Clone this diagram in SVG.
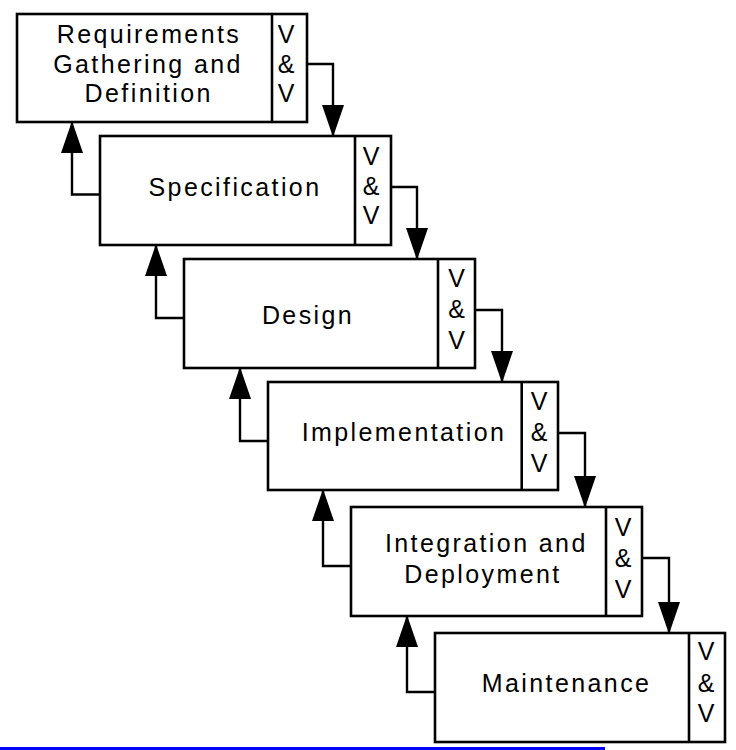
<svg xmlns="http://www.w3.org/2000/svg" width="736" height="750" viewBox="0 0 736 750">
<defs>
<style>
.box{fill:#fff;stroke:#000;stroke-width:2.6}
.div{stroke:#000;stroke-width:2.6}
.lbl{font-family:"Liberation Sans",Arial,sans-serif;font-size:25px;fill:#000;text-anchor:middle;letter-spacing:2.4px}
.vv{font-family:"Liberation Sans",Arial,sans-serif;font-size:25px;fill:#000;text-anchor:middle}
.con{fill:none;stroke:#000;stroke-width:2.4;marker-end:url(#ah)}
</style>
<marker id="ah" markerUnits="userSpaceOnUse" markerWidth="32" markerHeight="22" viewBox="0 0 32 22" refX="31" refY="11" orient="auto">
<path d="M0,0 L32,11 L0,22 Z" fill="#000"/>
</marker>
</defs>
<rect x="0" y="747" width="605" height="3" fill="#0000ff"/>
<g id="connectors">
<path class="con" d="M307,64 H333 V136" />
<path class="con" d="M391,187 H417 V259" />
<path class="con" d="M475,310 H502 V382" />
<path class="con" d="M558,433 H585 V507" />
<path class="con" d="M642,558 H669 V633" />
<path class="con" d="M100,194.5 H72 V122" />
<path class="con" d="M184,318 H156 V245" />
<path class="con" d="M268,441 H240 V368" />
<path class="con" d="M351,566 H323 V490" />
<path class="con" d="M435,692 H407 V616" />
</g>
<g id="n1">
<rect class="box" x="17" y="14" width="290" height="108"/>
<line class="div" x1="272" y1="14" x2="272" y2="122"/>
<text class="lbl" x="149" y="42.7">Requirements</text>
<text class="lbl" x="148" y="72.7">Gathering and</text>
<text class="lbl" x="148.7" y="101.7">Definition</text>
<text class="vv" x="286" y="42.7">V</text>
<text class="vv" x="286" y="72.7">&amp;</text>
<text class="vv" x="286" y="101.7">V</text>
</g>
<g id="n2">
<rect class="box" x="100" y="136" width="291" height="109"/>
<line class="div" x1="355" y1="136" x2="355" y2="245"/>
<text class="lbl" x="235" y="196">Specification</text>
<text class="vv" x="371" y="165">V</text>
<text class="vv" x="371" y="195">&amp;</text>
<text class="vv" x="371" y="224.3">V</text>
</g>
<g id="n3">
<rect class="box" x="184" y="259" width="291" height="109"/>
<line class="div" x1="438" y1="259" x2="438" y2="368"/>
<text class="lbl" x="308" y="324">Design</text>
<text class="vv" x="456.5" y="287">V</text>
<text class="vv" x="456.5" y="318">&amp;</text>
<text class="vv" x="456.5" y="349">V</text>
</g>
<g id="n4">
<rect class="box" x="268" y="382" width="290" height="108"/>
<line class="div" x1="521.7" y1="382" x2="521.7" y2="490"/>
<text class="lbl" x="404" y="441">Implementation</text>
<text class="vv" x="539" y="409.5">V</text>
<text class="vv" x="539" y="440.7">&amp;</text>
<text class="vv" x="539" y="471.7">V</text>
</g>
<g id="n5">
<rect class="box" x="351" y="507" width="291" height="109"/>
<line class="div" x1="606" y1="507" x2="606" y2="616"/>
<text class="lbl" x="486.3" y="552.3">Integration and</text>
<text class="lbl" x="483" y="582.7">Deployment</text>
<text class="vv" x="623" y="535.7">V</text>
<text class="vv" x="623" y="566.7">&amp;</text>
<text class="vv" x="623" y="598">V</text>
</g>
<g id="n6">
<rect class="box" x="435" y="633" width="290" height="109"/>
<line class="div" x1="689" y1="633" x2="689" y2="742"/>
<text class="lbl" x="566.6" y="691.7">Maintenance</text>
<text class="vv" x="706" y="660">V</text>
<text class="vv" x="706" y="691.7">&amp;</text>
<text class="vv" x="706" y="721.7">V</text>
</g>
</svg>
